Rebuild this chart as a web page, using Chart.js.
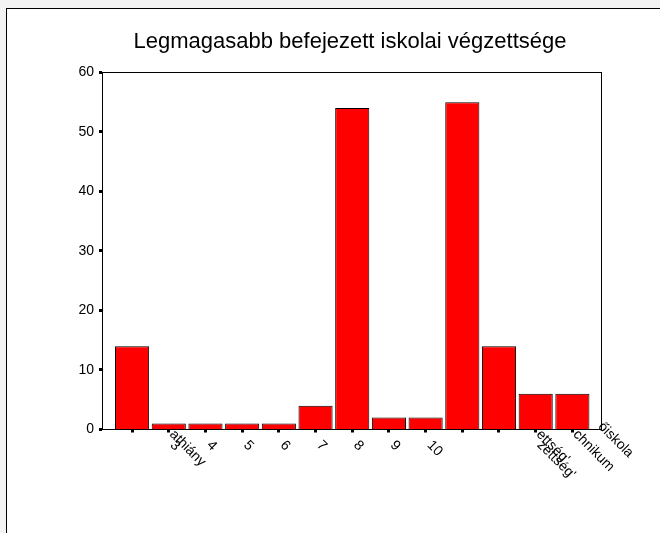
<!DOCTYPE html>
<html>
<head>
<meta charset="utf-8">
<script src="https://cdn.jsdelivr.net/npm/chart.js@4.4.1/dist/chart.umd.min.js"></script>
<style>
  html, body { margin: 0; padding: 0; background: #f3f3f3; overflow: hidden; }
  #frame {
    position: absolute; left: 6px; top: 8px; width: 653px; height: 524px;
    border-left: 1px solid #000; border-top: 1px solid #000; background: #fff;
  }
  canvas { display: block; }
</style>
</head>
<body>
<div id="frame"><canvas id="chart" width="653" height="524"></canvas></div>
<script>
const title = 'Legmagasabb befejezett iskolai végzettsége';

// one entry per bar; second line is the wrapped part of the SPSS label
const categoryLabels = [
  '',
  ['athiány', '3'],
  ['', '4'],
  ['', '5'],
  ['', '6'],
  ['', '7'],
  ['', '8'],
  ['', '9'],
  ['', '10'],
  '',
  '',
  ['ettség\'', 'zettség\''],
  'chnikum',
];
const axisEndLabel = 'őiskola';

const counts = [14, 1, 1, 1, 1, 4, 54, 2, 2, 55, 14, 6, 6];

const yTicks = [0, 10, 20, 30, 40, 50, 60];

const font = '"Liberation Sans", Arial, sans-serif';

const slantLabels = {
  id: 'slantLabels',
  afterDraw(chart) {
    const xs = chart.scales.x;
    const ctx = chart.ctx;
    ctx.save();
    ctx.font = '14px ' + font;
    ctx.fillStyle = '#000';
    ctx.textAlign = 'left';
    ctx.textBaseline = 'middle';
    categoryLabels.forEach((lab, i) => {
      const lines = [].concat(lab);
      const x = xs.getPixelForValue(i);
      ctx.save();
      ctx.translate(x, xs.top);
      ctx.rotate(Math.PI / 4);
      if (lines[0]) ctx.fillText(lines[0], 4, 0);
      if (lines[1]) ctx.fillText(lines[1], 12, 7);
      ctx.restore();
    });
    ctx.translate(xs.right, xs.top);
    ctx.rotate(Math.PI / 4);
    ctx.fillText(axisEndLabel, -4, -3);
    ctx.restore();
  }
};

const plotBox = {
  id: 'plotBox',
  afterDatasetsDraw(chart) {
    const a = chart.chartArea;
    const ctx = chart.ctx;
    ctx.save();
    ctx.strokeStyle = '#000';
    ctx.lineWidth = 1;
    ctx.strokeRect(Math.round(a.left) + 0.5, Math.round(a.top) + 0.5,
      Math.round(a.right - a.left), Math.round(a.bottom - a.top));
    ctx.restore();
  }
};

new Chart(document.getElementById('chart'), {
  type: 'bar',
  data: {
    datasets: [{
      data: counts.map((v, i) => ({ x: i, y: v })),
      backgroundColor: '#ff0000',
      borderColor: '#000',
      borderWidth: 1,
      categoryPercentage: 1,
      barPercentage: 0.93
    }]
  },
  options: {
    responsive: false,
    animation: false,
    devicePixelRatio: 1,
    layout: { padding: { left: 55, right: 22, top: 0, bottom: 0 } },
    plugins: {
      legend: { display: false },
      tooltip: { enabled: false },
      title: {
        display: true,
        text: title,
        color: '#000',
        font: { family: font, size: 22, weight: 'normal' },
        padding: { top: 20, bottom: 17 }
      }
    },
    scales: {
      x: {
        type: 'linear',
        min: -0.82,
        max: 12.78,
        offset: false,
        afterBuildTicks: (s) => { s.ticks = counts.map((_, i) => ({ value: i })); },
        afterFit: (s) => { s.height = 103.5; },
        ticks: { display: false },
        grid: {
          offset: false, drawOnChartArea: false, drawTicks: true,
          tickLength: 3, tickWidth: 3, color: '#000'
        },
        border: { display: true, color: '#000', width: 1 }
      },
      y: {
        min: 0,
        max: 60,
        afterBuildTicks: (s) => { s.ticks = yTicks.map(v => ({ value: v })); },
        afterFit: (s) => { s.width = 40; },
        ticks: { color: '#000', padding: 5, font: { family: font, size: 14 } },
        grid: {
          drawOnChartArea: false, drawTicks: true,
          tickLength: 3, tickWidth: 3, color: '#000'
        },
        border: { display: true, color: '#000', width: 1 }
      },
      // empty right-hand strip so the title centres over the plot
      spacer: {
        position: 'right',
        ticks: { display: false },
        grid: { display: false },
        border: { display: false },
        afterFit: (s) => { s.width = 37; }
      }
    }
  },
  plugins: [slantLabels, plotBox]
});
</script>
</body>
</html>
